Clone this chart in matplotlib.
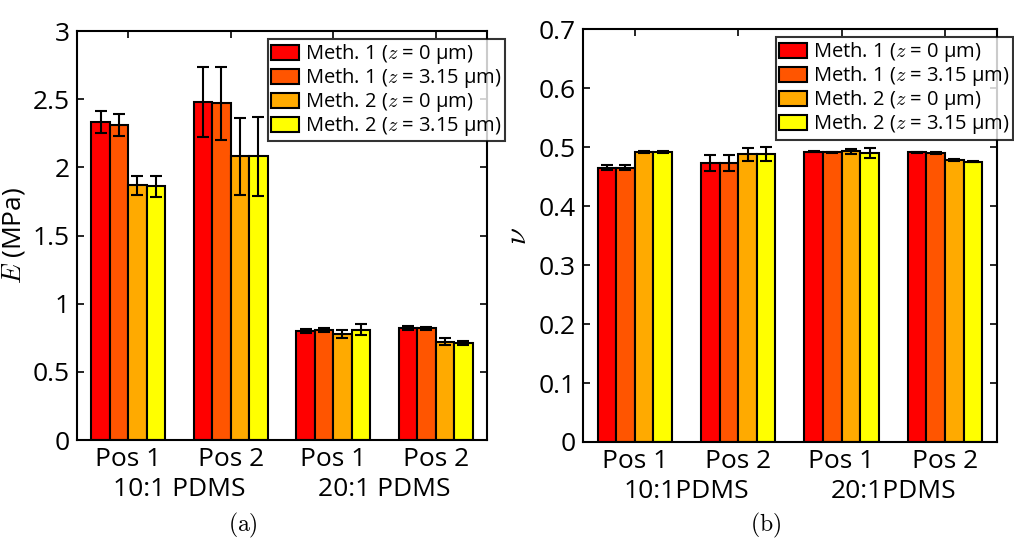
import numpy as np
import matplotlib
matplotlib.use('Agg')
import matplotlib.pyplot as plt

plt.rcParams['font.family'] = ['Open Sans', 'DejaVu Sans']
plt.rcParams['mathtext.fontset'] = 'cm'

groups = ['Pos 1', 'Pos 2', 'Pos 1', 'Pos 2']
series = ['Meth. 1 ($z$ = 0 μm)', 'Meth. 1 ($z$ = 3.15 μm)',
          'Meth. 2 ($z$ = 0 μm)', 'Meth. 2 ($z$ = 3.15 μm)']
colors = ['#ff0000', '#ff5500', '#ffaa00', '#ffff00']

# Young's modulus E (MPa), rows = series, cols = groups
E_val = [[2.33, 2.48, 0.80, 0.82],
         [2.31, 2.47, 0.81, 0.82],
         [1.87, 2.08, 0.78, 0.72],
         [1.86, 2.08, 0.81, 0.71]]
E_err = [[0.08, 0.26, 0.015, 0.015],
         [0.08, 0.27, 0.015, 0.012],
         [0.07, 0.28, 0.03, 0.025],
         [0.08, 0.29, 0.04, 0.015]]

# Poisson's ratio nu
nu_val = [[0.465, 0.473, 0.492, 0.491],
          [0.465, 0.473, 0.491, 0.490],
          [0.492, 0.488, 0.493, 0.478],
          [0.492, 0.488, 0.490, 0.475]]
nu_err = [[0.004, 0.013, 0.001, 0.001],
          [0.004, 0.014, 0.001, 0.001],
          [0.002, 0.011, 0.004, 0.002],
          [0.002, 0.012, 0.008, 0.001]]

fig = plt.figure(figsize=(10.14, 5.46), dpi=100)
ax1 = fig.add_axes([0.0759, 0.1941, 0.4043, 0.749])
ax2 = fig.add_axes([0.575, 0.1905, 0.408, 0.756])

x = np.arange(1, 5)
w = 0.18


def draw(ax, vals, errs, ylim, yticks, ylabels, mats, legx):
    for i in range(4):
        xi = x + (i - 1.5) * w
        ax.bar(xi, vals[i], width=w, color=colors[i], edgecolor='k',
               linewidth=1.5, label=series[i], zorder=2)
        ax.errorbar(xi, vals[i], yerr=errs[i], fmt='none', ecolor='k',
                    elinewidth=1.5, capsize=4, capthick=1.5, zorder=3)
    ax.set_xlim(0.5, 4.5)
    ax.set_ylim(*ylim)
    ax.set_yticks(yticks)
    ax.set_yticklabels(ylabels, fontsize=19)
    ax.set_xticks(x)
    ax.set_xticklabels(groups, fontsize=19)
    ax.tick_params(direction='in', top=True, right=True, length=5, width=1.2, pad=5)
    for s in ax.spines.values():
        s.set_linewidth(1.5)
    ax.text(1.5, -0.09, mats[0], transform=ax.get_xaxis_transform(),
            ha='center', va='top', fontsize=19)
    ax.text(3.5, -0.09, mats[1], transform=ax.get_xaxis_transform(),
            ha='center', va='top', fontsize=19)
    leg = ax.legend(loc='upper left', bbox_to_anchor=legx, fontsize=14.5,
                    frameon=True, fancybox=False, edgecolor='k',
                    handlelength=1.4, handleheight=0.8, handletextpad=0.3,
                    borderpad=0.15, labelspacing=0.0, borderaxespad=0)
    leg.get_frame().set_linewidth(1.5)


draw(ax1, E_val, E_err, (0, 3), np.arange(0, 3.01, 0.5),
     ['0', '0.5', '1', '1.5', '2', '2.5', '3'], ['10:1 PDMS', '20:1 PDMS'],
     (0.466, 0.98))
ax1.set_ylabel('$E$ (MPa)', fontsize=19)

draw(ax2, nu_val, nu_err, (0, 0.7), np.arange(0, 0.71, 0.1),
     ['0', '0.1', '0.2', '0.3', '0.4', '0.5', '0.6', '0.7'], ['10:1PDMS', '20:1PDMS'],
     (0.466, 0.98))
ax2.set_ylabel('$\\nu$', fontsize=22)

fig.text(243 / 1014, 1 - 525 / 546, '$\\mathrm{(a)}$', ha='center', va='center',
         fontsize=17)
fig.text(766 / 1014, 1 - 525 / 546, '$\\mathrm{(b)}$', ha='center', va='center',
         fontsize=17)

fig.savefig('out.png', dpi=100)
